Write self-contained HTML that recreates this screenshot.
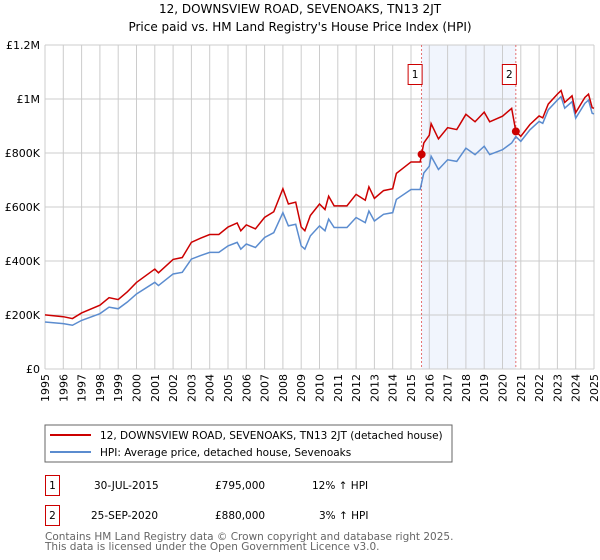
<!DOCTYPE html>
<html><head><meta charset="utf-8"><style>
body{margin:0;background:#fff;font-family:"DejaVu Sans","Liberation Sans",sans-serif;}
#c{position:relative;width:600px;height:560px;overflow:hidden}
svg text{font-family:"DejaVu Sans","Liberation Sans",sans-serif}
</style></head><body><div id="c">
<svg id="s" width="600" height="560" xmlns="http://www.w3.org/2000/svg">
<text x="300" y="13" text-anchor="middle" font-size="12" fill="#000">12, DOWNSVIEW ROAD, SEVENOAKS, TN13 2JT</text>
<text x="300" y="31" text-anchor="middle" font-size="12" fill="#000">Price paid vs. HM Land Registry's House Price Index (HPI)</text>
<g id="grid"></g><g id="marks"></g><g id="axes"></g>
<rect x="45" y="425" width="407" height="37" fill="#fff" stroke="#666"/>
<line x1="50" y1="435" x2="91" y2="435" stroke="#cc0000" stroke-width="2"/>
<text x="100" y="439" font-size="10.5">12, DOWNSVIEW ROAD, SEVENOAKS, TN13 2JT (detached house)</text>
<line x1="50" y1="452" x2="91" y2="452" stroke="#5b8ccf" stroke-width="2"/>
<text x="100" y="456" font-size="10.5">HPI: Average price, detached house, Sevenoaks</text>
<g font-size="10.5">
<rect x="45.5" y="475.5" width="14" height="20" fill="none" stroke="#cc0000"/>
<text x="52.5" y="489" text-anchor="middle">1</text>
<text x="94" y="489">30-JUL-2015</text><text x="215" y="489">£795,000</text><text x="312" y="489">12% ↑ HPI</text></g>
<g font-size="10.5">
<rect x="45.5" y="505.5" width="14" height="20" fill="none" stroke="#cc0000"/>
<text x="52.5" y="519" text-anchor="middle">2</text>
<text x="91" y="519">25-SEP-2020</text><text x="215" y="519">£880,000</text><text x="319" y="519">3% ↑ HPI</text></g>
<text x="45" y="540" font-size="10.5" fill="#666">Contains HM Land Registry data © Crown copyright and database right 2025.</text>
<text x="45" y="550" font-size="10.5" fill="#666">This data is licensed under the Open Government Licence v3.0.</text>
</svg></div>
<script>
const hpiYears=[1995,1996,1996.5,1997,1998,1998.5,1999,1999.5,2000,2001,2001.2,2002,2002.5,2003,2003.5,2004,2004.5,2005,2005.5,2005.7,2006,2006.5,2007,2007.5,2008,2008.3,2008.7,2009,2009.2,2009.5,2010,2010.3,2010.5,2010.8,2011.5,2012,2012.5,2012.7,2013,2013.5,2014,2014.2,2015,2015.5,2015.7,2016,2016.1,2016.5,2017,2017.5,2018,2018.5,2019,2019.3,2020,2020.5,2020.73,2021,2021.5,2022,2022.2,2022.5,2023,2023.2,2023.4,2023.8,2024,2024.5,2024.7,2024.9,2025];
const hpiValues=[174,168,162,180,205,229,223,248,278,321,309,352,358,407,420,432,432,456,469,444,463,450,487,505,579,530,536,456,444,493,530,512,555,524,524,561,542,585,548,573,579,628,665,665,726,751,788,739,775,769,818,794,825,794,812,837,861,843,886,917,910,960,996,1009,966,990,929,984,996,947,945];
const saleDates=[2015.58,2020.73];
const salePrices=[795,880];
const yTicks=[0,200,400,600,800,1000,1200];
const yTickLabels=["£0","£200K","£400K","£600K","£800K","£1M","£1.2M"];
const xTicks=[1995,1996,1997,1998,1999,2000,2001,2002,2003,2004,2005,2006,2007,2008,2009,2010,2011,2012,2013,2014,2015,2016,2017,2018,2019,2020,2021,2022,2023,2024,2025];
const X0=45,X1=594,Y0=369,Y1=45;
const xs=v=>X0+(v-1995)/30*(X1-X0);
const ys=v=>Y0-v/1200*(Y0-Y1);
const NS="http://www.w3.org/2000/svg";
function mk(t,a,p){const e=document.createElementNS(NS,t);for(const k in a)e.setAttribute(k,a[k]);p.appendChild(e);return e;}
const grid=document.getElementById('grid'),marks=document.getElementById('marks'),axes=document.getElementById('axes');
const sh=mk('rect',{x:xs(saleDates[0]),y:Y1,width:xs(saleDates[1])-xs(saleDates[0]),height:Y0-Y1,fill:'#eef3fc',opacity:0.8},grid);


xTicks.forEach((t,i)=>{
 const l=mk('line',{x1:xs(t),x2:xs(t),y1:Y1,y2:Y0,stroke:'#ccc'},grid);
 
 
 const tx=mk('text',{x:0,y:0,'font-size':'11','text-anchor':'end',transform:`translate(${xs(t)+4},${Y0+5}) rotate(-90)`},axes);
 tx.textContent=t;
 
 
});
yTicks.forEach((t,i)=>{
 const l=mk('line',{x1:X0,x2:X1,y1:ys(t),y2:ys(t),stroke:'#ccc'},grid);
 
 
 const tx=mk('text',{x:X0-5,y:ys(t)+4,'font-size':'11','text-anchor':'end'},axes);
 tx.textContent=yTickLabels[i];
 
 
});
function hpiAt(d){for(let i=1;i<hpiYears.length;i++){if(d<=hpiYears[i]){const f=(d-hpiYears[i-1])/(hpiYears[i]-hpiYears[i-1]);return hpiValues[i-1]+f*(hpiValues[i]-hpiValues[i-1]);}}return hpiValues[hpiValues.length-1];}
const r1=salePrices[0]/hpiAt(saleDates[0]),r2=salePrices[1]/hpiAt(saleDates[1]);
saleDates.forEach((d,i)=>{
 const l=mk('line',{x1:xs(d),x2:xs(d),y1:Y1,y2:Y0,stroke:'#e05050','stroke-dasharray':'2,2','stroke-width':0.8},marks);
 
 
 const b=mk('rect',{x:xs(d)-13.5,y:64.5,width:14,height:20,fill:'#fff',stroke:'#cc0000'},marks);
 
 
 const t=mk('text',{x:xs(d)-6.5,y:78,'font-size':'10.5','text-anchor':'middle'},marks);
 t.textContent=String(i+1);
 
 
});
const bp=hpiYears.map((y,i)=>xs(y)+','+ys(hpiValues[i])).join(' ');
const bl=mk('polyline',{points:bp,fill:'none',stroke:'#5b8ccf','stroke-width':1.5},marks);


const rp=hpiYears.map((y,i)=>{const r=y<saleDates[1]?r1:r2;return xs(y)+','+ys(hpiValues[i]*r);});
// insert discontinuity at sale 2
const rl=mk('polyline',{points:rp.join(' '),fill:'none',stroke:'#cc0000','stroke-width':1.5},marks);


saleDates.forEach((d,i)=>{
 const c=mk('circle',{cx:xs(d),cy:ys(salePrices[i]),r:4,fill:'#cc0000'},marks);
 
 
});
</script></body></html>
